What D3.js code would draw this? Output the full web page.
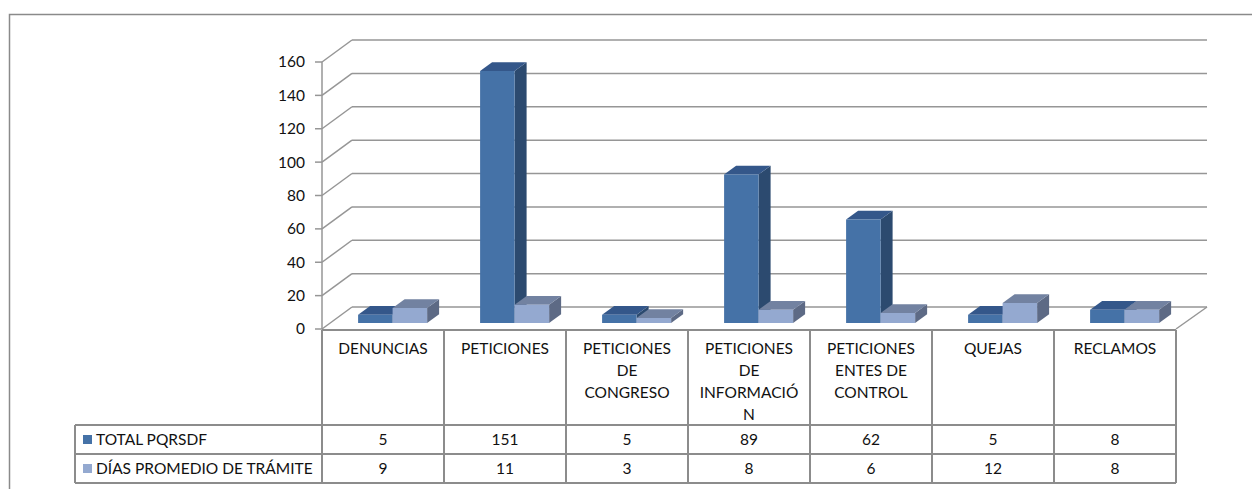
<!DOCTYPE html>
<html><head><meta charset="utf-8">
<script src="https://cdn.jsdelivr.net/npm/d3@7"></script>
<style>
html,body{margin:0;padding:0;background:#fff;}
svg{display:block;}
text{font-family:Lato,"Open Sans",sans-serif;fill:#111;}
</style></head>
<body><svg id="c" width="1252" height="489"></svg>
<script>
const categories = ["DENUNCIAS","PETICIONES","PETICIONES DE CONGRESO","PETICIONES DE INFORMACIÓN","PETICIONES ENTES DE CONTROL","QUEJAS","RECLAMOS"];
const categoryLabelLines = [["DENUNCIAS"],["PETICIONES"],["PETICIONES","DE","CONGRESO"],["PETICIONES","DE","INFORMACIÓ","N"],["PETICIONES","ENTES DE","CONTROL"],["QUEJAS"],["RECLAMOS"]];
const seriesNames = ["TOTAL PQRSDF","DÍAS PROMEDIO DE TRÁMITE"];
const totalPQRSDF = [5,151,5,89,62,5,8];
const diasPromedio = [9,11,3,8,6,12,8];
const yTicks = [0,20,40,60,80,100,120,140,160];

const seriesValues = [totalPQRSDF, diasPromedio];
const colors = [
  {front:"#4572a7", side:"#2c4a6f", top:"#34578a", key:"#4572a7"},
  {front:"#94a9d0", side:"#5d6a85", top:"#7282a1", key:"#94a9d0"}
];

const svg = d3.select("#c");
const gridColor = "#969696";
const fs = 15.5;

// layout
const xLeft = 322, xRight = 1176;
const depthX = 30, depthY = -22;
const y = d3.scaleLinear().domain([0,160]).range([329,62]);
const x = d3.scaleBand().domain(d3.range(categories.length)).range([xLeft,xRight]).padding(0);
const xs = d3.scaleBand().domain(d3.range(seriesNames.length)).range([28,97]).padding(0);
const z0 = 0.27, z1 = 0.67;
const P = (px, v, z) => [px + z*depthX, y(v) + z*depthY];

// chart border
svg.append("path").attr("d","M9.5,489 L9.5,14.5 L1252,14.5").attr("fill","none").attr("stroke","#8a8a8a").attr("stroke-width",1.5);

// back wall gridlines
const g = svg.append("g");
yTicks.forEach(t=>{
  const a = P(xLeft,t,1), b = P(xRight,t,1);
  g.append("line").attr("x1",a[0]).attr("y1",a[1]).attr("x2",1207).attr("y2",b[1]).attr("stroke",gridColor).attr("stroke-width",1.5);
  const f = P(xLeft,t,0);
  g.append("line").attr("x1",f[0]).attr("y1",f[1]).attr("x2",a[0]).attr("y2",a[1]).attr("stroke",gridColor).attr("stroke-width",1.5);
  g.append("line").attr("x1",f[0]-7).attr("y1",f[1]).attr("x2",f[0]).attr("y2",f[1]).attr("stroke",gridColor).attr("stroke-width",1.5);
  g.append("text").attr("x",305).attr("y",f[1]).attr("dy","0.35em").attr("text-anchor","end").attr("font-size",fs).text(t);
});
// floor right edge
{
  const a = P(xRight,0,0), b = P(xRight,0,1);
  g.append("line").attr("x1",a[0]).attr("y1",a[1]).attr("x2",1207).attr("y2",b[1]).attr("stroke",gridColor).attr("stroke-width",1.5);
}
// front axis
g.append("line").attr("x1",xLeft).attr("y1",y(160)).attr("x2",xLeft).attr("y2",y(0)).attr("stroke",gridColor).attr("stroke-width",1.5);

// bars
const bars = svg.append("g");
categories.forEach((c,i)=>{
  seriesValues.forEach((vals,s)=>{
    const v = vals[i];
    const x0 = x(i) + xs(s), x1 = x0 + xs.bandwidth();
    const col = colors[s];
    const poly = pts => pts.map(p=>p.join(",")).join(" ");
    bars.append("polygon").attr("points",poly([P(x1,0,z0),P(x1,0,z1),P(x1,v,z1),P(x1,v,z0)])).attr("fill",col.side);
    bars.append("polygon").attr("points",poly([P(x0,v,z0),P(x1,v,z0),P(x1,v,z1),P(x0,v,z1)])).attr("fill",col.top);
    bars.append("polygon").attr("points",poly([P(x0,0,z0),P(x1,0,z0),P(x1,v,z0),P(x0,v,z0)])).attr("fill",col.front);
  });
});

// data table
const tbl = svg.append("g");
const rowTop = 330, rowHead = 425, row1 = 454, row2 = 483, tLeft = 75;
const lineAttr = sel => sel.attr("stroke","#8c8c8c").attr("stroke-width",2);
tbl.append("line").attr("x1",xLeft).attr("x2",xRight).attr("y1",rowTop).attr("y2",rowTop).call(lineAttr);
[rowHead,row1,row2].forEach(yy=>tbl.append("line").attr("x1",tLeft).attr("x2",xRight).attr("y1",yy).attr("y2",yy).call(lineAttr));
tbl.append("line").attr("x1",tLeft).attr("x2",tLeft).attr("y1",rowHead).attr("y2",row2).call(lineAttr);
d3.range(categories.length+1).forEach(i=>{
  const xx = i<categories.length ? x(i) : xRight;
  tbl.append("line").attr("x1",xx).attr("x2",xx).attr("y1",rowTop).attr("y2",row2).call(lineAttr);
});
categoryLabelLines.forEach((lines,i)=>{
  const cx = x(i) + x.bandwidth()/2;
  lines.forEach((ln,k)=>{
    tbl.append("text").attr("x",cx).attr("y",349 + k*21.7).attr("dy","0.35em").attr("text-anchor","middle").attr("font-size",fs).text(ln);
  });
});
const rowsY = [(rowHead+row1)/2, (row1+row2)/2];
seriesNames.forEach((n,s)=>{
  tbl.append("rect").attr("x",83).attr("y",rowsY[s]-4.5).attr("width",9).attr("height",9).attr("fill",colors[s].key);
  tbl.append("text").attr("x",96).attr("y",rowsY[s]).attr("dy","0.35em").attr("font-size",fs).text(n);
  seriesValues[s].forEach((v,i)=>{
    tbl.append("text").attr("x",x(i)+x.bandwidth()/2).attr("y",rowsY[s]).attr("dy","0.35em").attr("text-anchor","middle").attr("font-size",fs).text(v);
  });
});
</script></body></html>
